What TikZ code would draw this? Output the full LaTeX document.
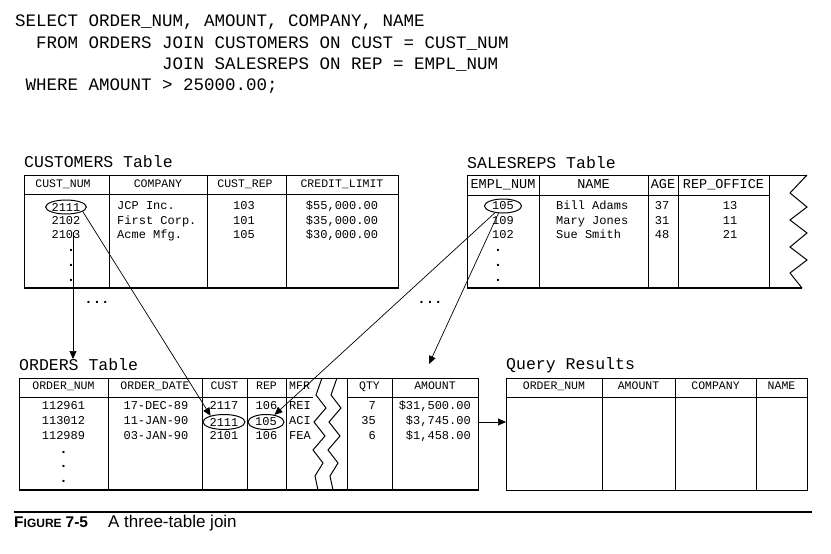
\documentclass[tikz,border=0pt]{standalone}
\usepackage{fontspec}
\setmainfont{Liberation Serif}
\newfontfamily\monofam{Liberation Mono}
\newfontfamily\capfam{Liberation Sans}
\usetikzlibrary{shapes.geometric,arrows.meta}
\newcommand\sqltxt{\monofam\fontsize{17.5}{20}\selectfont}
\newcommand\ttltxt{\monofam\fontsize{16.5}{18}\selectfont}
\newcommand\celltxt{\monofam\fontsize{12}{14}\selectfont}
\newcommand\dottxt{\monofam\bfseries\fontsize{14}{14}\selectfont}
\newcommand\hdrtxt{\monofam\fontsize{11.5}{13}\selectfont}
\newcommand\hdrbig{\monofam\fontsize{13.5}{15}\selectfont}
\tikzset{
  sqlline/.style={font=\sqltxt, anchor=base west, inner sep=0pt},
  ttl/.style={font=\ttltxt, anchor=mid west, inner sep=0pt},
  hdr/.style={font=\hdrtxt, anchor=mid, inner sep=0pt},
  hdrb/.style={font=\hdrbig, anchor=mid, inner sep=0pt},
  cellc/.style={font=\celltxt, anchor=mid, inner sep=0pt},
  celll/.style={font=\celltxt, anchor=mid west, inner sep=0pt},
  cellr/.style={font=\celltxt, anchor=mid east, inner sep=0pt},
  dotc/.style={font=\dottxt, anchor=center, inner sep=0pt},
  frame/.style={line width=1pt, draw=black},
  bottomline/.style={line width=2pt, draw=black},
  oval/.style={ellipse, draw, line width=1pt, inner sep=0pt, font=\celltxt},
  conn/.style={line width=0.7pt, -{Triangle[length=8pt,width=7pt]}},
}
\begin{document}
\begin{tikzpicture}[x=1pt,y=-1pt]
\useasboundingbox (0,0) rectangle (831,554);
\fill[white] (0,0) rectangle (831,554);

% ---------- SQL ----------
\node[sqlline] (sql1) at (15,27) {SELECT ORDER\_NUM, AMOUNT, COMPANY, NAME};
\node[sqlline] (sql2) at (36,48.5) {FROM ORDERS JOIN CUSTOMERS ON CUST = CUST\_NUM};
\node[sqlline] (sql3) at (162,69.5) {JOIN SALESREPS ON REP = EMPL\_NUM};
\node[sqlline] (sql4) at (25.5,90) {WHERE AMOUNT > 25000.00;};

% ---------- CUSTOMERS ----------
\node[ttl] (custttl) at (24,165) {CUSTOMERS Table};
\draw[frame] (24,288) -- (24,175) -- (398,175) -- (398,288);
\draw[bottomline] (23.5,288) -- (398.5,288);
\draw[frame] (24,194) -- (398,194);
\foreach \x in {109,207,286} \draw[frame] (\x,175) -- (\x,288);
\node[hdr] (ch1) at (63,185) {CUST\_NUM};
\node[hdr] (ch2) at (158,185) {COMPANY};
\node[hdr] (ch3) at (245,185) {CUST\_REP};
\node[hdr] (ch4) at (342,185) {CREDIT\_LIMIT};
\node[oval, minimum width=40pt, minimum height=14pt] (c2111) at (66,207) {2111};
\node[cellc] (c2102) at (66,222) {2102};
\node[cellc] (c2103) at (66,236) {2103};
\node[dotc] (cd1) at (71,250) {.};
\node[dotc] (cd2) at (71,265) {.};
\node[dotc] (cd3) at (71,280) {.};
\node[celll] (cco1) at (117,207) {JCP Inc.};
\node[celll] (cco2) at (117,222) {First Corp.};
\node[celll] (cco3) at (117,236) {Acme Mfg.};
\node[cellc] (cr1) at (244,207) {103};
\node[cellc] (cr2) at (244,222) {101};
\node[cellc] (cr3) at (244,236) {105};
\node[cellc] (cl1) at (342,207) {\$55,000.00};
\node[cellc] (cl2) at (342,222) {\$35,000.00};
\node[cellc] (cl3) at (342,236) {\$30,000.00};
\node[dotc] (cmore) at (97,302) {...};

% ---------- SALESREPS ----------
\node[ttl] (salttl) at (467,166) {SALESREPS Table};
\draw[frame] (467,288) -- (467,175) -- (807,175);
\draw[bottomline] (466.5,288) -- (802,288);
\draw[frame] (467,195) -- (769,195);
\foreach \x in {539,648,678,769} \draw[frame] (\x,175) -- (\x,288);
\draw[frame] (807,175) -- (790,193) -- (807,207) -- (790,220) -- (807,233)
  -- (790,247) -- (807,260) -- (790,273) -- (802,288);
\node[hdrb] (sh1) at (503,186) {EMPL\_NUM};
\node[hdrb] (sh2) at (593.5,186) {NAME};
\node[hdrb] (sh3) at (663,186) {AGE};
\node[hdrb] (sh4) at (723.5,186) {REP\_OFFICE};
\node[oval, minimum width=37pt, minimum height=14pt] (s105) at (503,206) {105};
\node[cellc] (s109) at (503,222) {109};
\node[cellc] (s102) at (503,236) {102};
\node[dotc] (sd1) at (498,250) {.};
\node[dotc] (sd2) at (498,265) {.};
\node[dotc] (sd3) at (498,280) {.};
\node[celll] (sn1) at (556,207) {Bill Adams};
\node[celll] (sn2) at (556,222) {Mary Jones};
\node[celll] (sn3) at (556,236) {Sue Smith};
\node[cellc] (sa1) at (662,207) {37};
\node[cellc] (sa2) at (662,222) {31};
\node[cellc] (sa3) at (662,236) {48};
\node[cellc] (so1) at (730,207) {13};
\node[cellc] (so2) at (730,222) {11};
\node[cellc] (so3) at (730,236) {21};
\node[dotc] (smore) at (430,302) {...};

% ---------- ORDERS ----------
\node[ttl] (ordttl) at (19,368) {ORDERS Table};
\draw[frame] (19,378) rectangle (478,490);
\draw[line width=1.6pt] (18.5,490) -- (478.5,490);
\draw[frame] (19,397) -- (313,397);
\draw[frame] (347,397) -- (478,397);
\foreach \x in {108,202,247,286,347,392} \draw[frame] (\x,378) -- (\x,490);
\draw[frame] (322,378) -- (316,395) -- (326,408) -- (314,422) -- (325,436)
  -- (313,450) -- (323,463) -- (315,476) -- (318,490);
\draw[frame] (337,378) -- (331,395) -- (341,408) -- (329,422) -- (340,436)
  -- (328,450) -- (338,463) -- (330,476) -- (333,490);
\node[hdr] (oh1) at (63.5,387) {ORDER\_NUM};
\node[hdr] (oh2) at (155,387) {ORDER\_DATE};
\node[hdr] (oh3) at (224.5,387) {CUST};
\node[hdr] (oh4) at (266.5,387) {REP};
\node[hdr, anchor=mid west] (oh5) at (289,387) {MFR};
\node[hdr] (oh6) at (369.5,387) {QTY};
\node[hdr] (oh7) at (435,387) {AMOUNT};
\node[cellc] (on1) at (63.5,407) {112961};
\node[cellc] (on2) at (63.5,422) {113012};
\node[cellc] (on3) at (63.5,437) {112989};
\node[dotc] (od1) at (63.5,452) {.};
\node[dotc] (od2) at (63.5,466) {.};
\node[dotc] (od3) at (63.5,481) {.};
\node[cellc] (ot1) at (156,407) {17-DEC-89};
\node[cellc] (ot2) at (156,422) {11-JAN-90};
\node[cellc] (ot3) at (156,437) {03-JAN-90};
\node[cellc] (oc1) at (224,407) {2117};
\node[oval, minimum width=42pt, minimum height=15pt] (o2111) at (224,422) {2111};
\node[cellc] (oc3) at (224,437) {2101};
\node[cellc] (or1) at (266.5,407) {106};
\node[oval, minimum width=36pt, minimum height=15pt] (o105) at (266,422) {105};
\node[cellc] (or3) at (266.5,437) {106};
\node[celll] (om1) at (289,407) {REI};
\node[celll] (om2) at (289,422) {ACI};
\node[celll] (om3) at (289,437) {FEA};
\node[cellr] (oq1) at (376,407) {7};
\node[cellr] (oq2) at (376,422) {35};
\node[cellr] (oq3) at (376,437) {6};
\node[cellr] (oa1) at (471,407) {\$31,500.00};
\node[cellr] (oa2) at (471,422) {\$3,745.00};
\node[cellr] (oa3) at (471,437) {\$1,458.00};

% ---------- QUERY RESULTS ----------
\node[ttl] (qrttl) at (506,367) {Query Results};
\draw[frame] (506,378) rectangle (807,490);
\draw[frame] (506,397) -- (807,397);
\foreach \x in {602,675,756} \draw[frame] (\x,378) -- (\x,490);
\node[hdr] (qh1) at (554,387) {ORDER\_NUM};
\node[hdr] (qh2) at (638.5,387) {AMOUNT};
\node[hdr] (qh3) at (715.5,387) {COMPANY};
\node[hdr] (qh4) at (781.5,387) {NAME};

% ---------- CONNECTORS ----------
\coordinate (aS) at (73,232);
\coordinate (aE) at (73,359);
\coordinate (dE) at (429,364);
\coordinate (ordR) at (478,422);
\coordinate (qrL) at (506,422);
\draw[conn] (aS) -- (aE);
\draw[conn] (c2111.-15) -- (o2111.155);
\draw[conn] (s105.-140) -- (o105.40);
\draw[conn] (s105.-122) -- (dE);
\draw[conn] (ordR) -- (qrL);

% ---------- CAPTION ----------
\draw[line width=2.5pt] (14,512) -- (812,512);
\node[anchor=base west, inner sep=0pt] (fig) at (14,527)
  {\capfam\bfseries\fontsize{15.5}{15.5}\selectfont F\fontsize{12}{12}\selectfont IGURE\hspace{4pt}\fontsize{15.5}{15.5}\selectfont 7-5};
\node[anchor=base west, inner sep=0pt] (figtxt) at (108,527)
  {\capfam\fontsize{17}{17}\selectfont A three-table join};
\end{tikzpicture}
\end{document}
